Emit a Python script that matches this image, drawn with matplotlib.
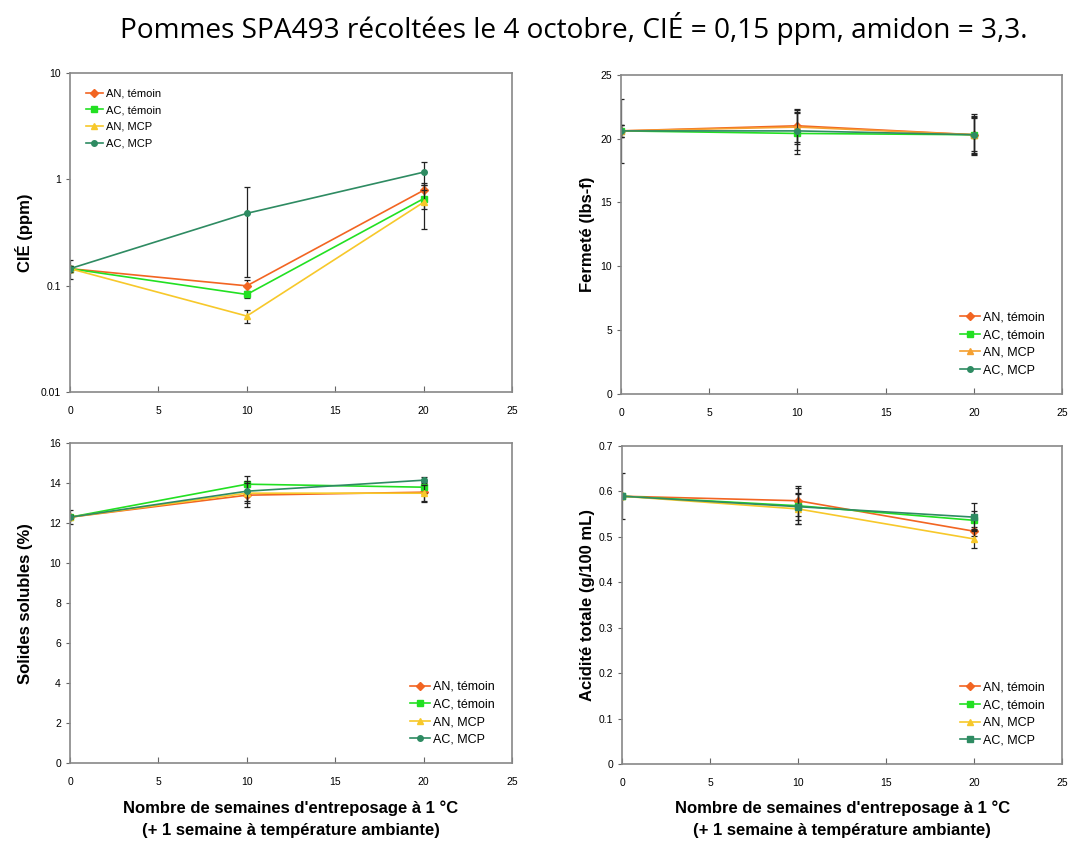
import matplotlib.pyplot as plt
import numpy as np

# Semaines d'entreposage
semaines = [0, 10, 20]
series = ['AN, témoin', 'AC, témoin', 'AN, MCP', 'AC, MCP']

# CIÉ (ppm) et écarts
cie = {
    'AN, témoin': [0.145, 0.100, 0.79],
    'AC, témoin': [0.145, 0.083, 0.66],
    'AN, MCP': [0.145, 0.052, 0.61],
    'AC, MCP': [0.145, 0.48, 1.17],
}
cie_err = {
    'AN, témoin': [0.03, 0.014, 0.13],
    'AC, témoin': [0.01, 0.006, 0.13],
    'AN, MCP': [0.01, 0.007, 0.27],
    'AC, MCP': [0.01, 0.36, 0.29],
}

# Fermeté (lbs-f)
fermete = {
    'AN, témoin': [20.6, 21.0, 20.3],
    'AC, témoin': [20.6, 20.4, 20.3],
    'AN, MCP': [20.6, 20.9, 20.3],
    'AC, MCP': [20.6, 20.6, 20.3],
}
fermete_err = {
    'AN, témoin': [2.5, 1.3, 1.6],
    'AC, témoin': [0.5, 1.6, 1.5],
    'AN, MCP': [0.5, 1.3, 1.4],
    'AC, MCP': [0.5, 1.5, 1.3],
}

# Solides solubles (%)
solides = {
    'AN, témoin': [12.3, 13.4, 13.55],
    'AC, témoin': [12.3, 13.95, 13.8],
    'AN, MCP': [12.3, 13.5, 13.5],
    'AC, MCP': [12.3, 13.6, 14.15],
}
solides_err = {
    'AN, témoin': [0.35, 0.6, 0.5],
    'AC, témoin': [0.1, 0.4, 0.3],
    'AN, MCP': [0.1, 0.5, 0.4],
    'AC, MCP': [0.1, 0.5, 0.15],
}

# Acidité totale (g/100 mL)
acidite = {
    'AN, témoin': [0.589, 0.579, 0.512],
    'AC, témoin': [0.589, 0.568, 0.536],
    'AN, MCP': [0.589, 0.561, 0.495],
    'AC, MCP': [0.589, 0.566, 0.543],
}
acidite_err = {
    'AN, témoin': [0.05, 0.033, 0.01],
    'AC, témoin': [0.005, 0.04, 0.02],
    'AN, MCP': [0.005, 0.033, 0.019],
    'AC, MCP': [0.005, 0.03, 0.031],
}

couleurs = {'AN, témoin': '#f26522', 'AC, témoin': '#22e022',
            'AN, MCP': '#f7c82a', 'AC, MCP': '#2e8b62'}
marqueurs = {'AN, témoin': 'D', 'AC, témoin': 's', 'AN, MCP': '^', 'AC, MCP': 'o'}

plt.rcParams['font.family'] = ['Liberation Sans', 'DejaVu Sans']

fig = plt.figure(figsize=(10.69, 8.49), dpi=100)
fig.text(0.537, 0.966, 'Pommes SPA493 récoltées le 4 octobre, CIÉ = 0,15 ppm, amidon = 3,3.',
         ha='center', va='center', fontsize=20.2, family=['Open Sans', 'DejaVu Sans'])

positions = [
    [0.0655, 0.538, 0.4135, 0.376],
    [0.581, 0.536, 0.4125, 0.376],
    [0.0655, 0.101, 0.4135, 0.377],
    [0.582, 0.100, 0.4115, 0.375],
]
donnees = [(cie, cie_err, 'CIÉ (ppm)'),
           (fermete, fermete_err, 'Fermeté (lbs-f)'),
           (solides, solides_err, 'Solides solubles (%)'),
           (acidite, acidite_err, 'Acidité totale (g/100 mL)')]
label_x = [-0.083, -0.059, -0.083, -0.061]

for i, (pos, (vals, errs, ylab)) in enumerate(zip(positions, donnees)):
    ax = fig.add_axes(pos)
    for s in series:
        m = marqueurs[s]
        c = couleurs[s]
        if i == 3 and s == 'AC, MCP':
            m = 's'
        if i == 1 and s == 'AN, MCP':
            c = '#f5a030'
        ax.errorbar(semaines, vals[s], yerr=errs[s], fmt='none', ecolor='#222222',
                    elinewidth=0.9, capsize=2.5, capthick=0.9)
        ax.plot(semaines, vals[s], color=c, marker=m, markersize=4,
                linewidth=1.2, label=s)
    ax.set_xlim(0, 25)
    ax.set_xticks([0, 5, 10, 15, 20, 25])
    if i == 0:
        ax.set_yscale('log')
        ax.set_ylim(0.01, 10)
        ax.set_yticks([0.01, 0.1, 1, 10])
        ax.set_yticklabels(['0.01', '0.1', '1', '10'])
        ax.minorticks_off()
        ax.legend(loc='upper left', frameon=False, fontsize=8, handlelength=1.6,
                  handletextpad=0.2, labelspacing=0.6, borderaxespad=1.0)
    else:
        if i == 1:
            ax.set_ylim(0, 25)
            ax.set_yticks(np.arange(0, 26, 5))
        elif i == 2:
            ax.set_ylim(0, 16)
            ax.set_yticks(np.arange(0, 17, 2))
        else:
            ax.set_ylim(0, 0.7)
            ax.set_yticks(np.arange(0, 0.71, 0.1))
            ax.set_yticklabels(['0', '0.1', '0.2', '0.3', '0.4', '0.5', '0.6', '0.7'])
        ax.legend(loc='lower right', frameon=False, fontsize=9, handlelength=1.6,
                  handletextpad=0.2, labelspacing=0.45, borderaxespad=1.0)
    for sp in ax.spines.values():
        sp.set_color('#888888')
        sp.set_linewidth(1.2)
    ax.tick_params(axis='x', direction='in', length=4, labelsize=7.5, pad=10, color='#666666')
    ax.tick_params(axis='y', direction='out', length=3, labelsize=7.5, color='#666666')
    ax.set_ylabel(ylab, fontsize=12, fontweight='bold')
    ax.yaxis.set_label_coords(label_x[i], 0.5)

for xc in [0.272, 0.788]:
    fig.text(xc, 0.035, "Nombre de semaines d'entreposage à 1 °C\n(+ 1 semaine à température ambiante)",
             ha='center', va='center', fontsize=12, fontweight='bold', linespacing=1.55,
             family=['Liberation Sans Narrow', 'Liberation Sans', 'DejaVu Sans'])

fig.savefig('out.png', dpi=100)
